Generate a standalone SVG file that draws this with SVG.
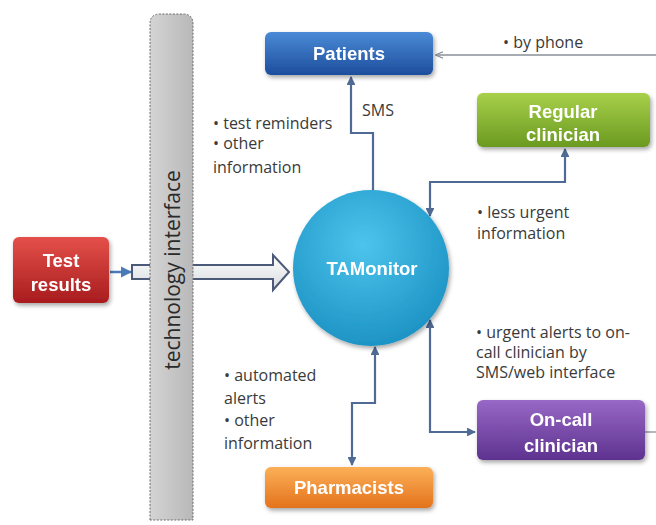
<svg xmlns="http://www.w3.org/2000/svg" width="656" height="525" viewBox="0 0 656 525">
<defs>
<style>
.lbl{font-family:"Liberation Sans",Arial,sans-serif;font-weight:bold;fill:#fff;text-anchor:middle;font-size:18.5px}
.note{font-family:"Open Sans","Liberation Sans",sans-serif;font-size:16px;fill:#3a3a3a}
.conn{fill:none;stroke:#4f6a94;stroke-width:2.2}
.thin{fill:none;stroke:#8a8f98;stroke-width:1.3}
</style>
<linearGradient id="gBlue" x1="0" y1="0" x2="0" y2="1"><stop offset="0" stop-color="#4a8ad6"/><stop offset="1" stop-color="#1d4e9c"/></linearGradient>
<linearGradient id="gGreen" x1="0" y1="0" x2="0" y2="1"><stop offset="0" stop-color="#a8d04a"/><stop offset="1" stop-color="#6a9a20"/></linearGradient>
<linearGradient id="gRed" x1="0" y1="0" x2="0" y2="1"><stop offset="0" stop-color="#e4504a"/><stop offset="1" stop-color="#a81c1e"/></linearGradient>
<linearGradient id="gOrange" x1="0" y1="0" x2="0" y2="1"><stop offset="0" stop-color="#fbb058"/><stop offset="1" stop-color="#e4721c"/></linearGradient>
<linearGradient id="gPurple" x1="0" y1="0" x2="0" y2="1"><stop offset="0" stop-color="#9868c6"/><stop offset="1" stop-color="#5e3290"/></linearGradient>
<radialGradient id="gCyan" cx="0.45" cy="0.35" r="0.7"><stop offset="0" stop-color="#4cc4ec"/><stop offset="1" stop-color="#1a90c2"/></radialGradient>
<linearGradient id="gBar" x1="0" y1="0" x2="1" y2="0"><stop offset="0" stop-color="#d4d4d4"/><stop offset="0.5" stop-color="#c6c6c6"/><stop offset="1" stop-color="#b8b8b8"/></linearGradient>
<linearGradient id="gArrow" x1="0" y1="0" x2="0" y2="1"><stop offset="0" stop-color="#ffffff"/><stop offset="1" stop-color="#d6d9de"/></linearGradient>
<filter id="sh" x="-10%" y="-10%" width="130%" height="140%"><feDropShadow dx="1.5" dy="2.5" stdDeviation="2" flood-color="#000" flood-opacity="0.35"/></filter>
<marker id="ar" viewBox="0 0 10 10" refX="9" refY="5" markerWidth="4" markerHeight="4" orient="auto-start-reverse"><path d="M0,0 L10,5 L0,10 Z" fill="#4f6a94"/></marker>
<marker id="arT" viewBox="0 0 10 10" refX="9" refY="5" markerWidth="6" markerHeight="6" orient="auto"><path d="M0,1 L10,5 L0,9" fill="none" stroke="#8a8f98" stroke-width="1.5"/></marker>
<marker id="arB" viewBox="0 0 10 10" refX="9" refY="5" markerWidth="4.5" markerHeight="4.5" orient="auto"><path d="M0,0 L10,5 L0,10 Z" fill="#4a7ab8"/></marker>
</defs>
<rect width="656" height="525" fill="#ffffff"/>

<g id="connectors">
<path class="conn" d="M373,192 L373,133 L351,133 L351,77" marker-end="url(#ar)"/>
<path class="conn" d="M565,149 L565,182 L430,182 L430,216" marker-start="url(#ar)" marker-end="url(#ar)"/>
<path class="conn" d="M430,320 L430,432 L475,432" marker-start="url(#ar)" marker-end="url(#ar)"/>
<path class="conn" d="M375,347 L375,403 L352,403 L352,465" marker-start="url(#ar)" marker-end="url(#ar)"/>
<path class="thin" d="M656,55 L436,55" marker-end="url(#arT)"/>
<path class="thin" d="M645,432 L656,432"/>
<path d="M110,272 L131,272" fill="none" stroke="#4a7ab8" stroke-width="2.5" marker-end="url(#arB)"/>
<path d="M132,265 L273,265 L273,255 L289,272 L273,290 L273,279 L132,279 Z" fill="url(#gArrow)" stroke="#4a5a78" stroke-width="2"/>
</g>

<g id="tech-interface">
<path d="M150,520 L150,24 Q150,14 160,14 L183,14 Q193,14 193,24 L193,520 Z" fill="url(#gBar)" stroke="#6a6a6a" stroke-width="1" stroke-dasharray="2,1.5"/>
<text x="0" y="0" transform="translate(180,270) rotate(-90)" text-anchor="middle" font-family="'Open Sans','Liberation Sans',sans-serif" font-size="21" fill="#2a2a2a">technology interface</text>
</g>

<g id="patients" filter="url(#sh)">
<rect x="265" y="32" width="168" height="43" rx="6" fill="url(#gBlue)"/>
<text class="lbl" x="349" y="60">Patients</text>
</g>

<g id="regular-clinician" filter="url(#sh)">
<rect x="477" y="93" width="173" height="54" rx="6" fill="url(#gGreen)"/>
<text class="lbl" x="563" y="118">Regular</text>
<text class="lbl" x="563" y="141">clinician</text>
</g>

<g id="test-results" filter="url(#sh)">
<rect x="13" y="237" width="96" height="66" rx="6" fill="url(#gRed)"/>
<text class="lbl" x="61" y="267">Test</text>
<text class="lbl" x="61" y="291">results</text>
</g>

<g id="tamonitor" filter="url(#sh)">
<circle cx="371" cy="268" r="78" fill="url(#gCyan)"/>
<text class="lbl" x="372" y="275">TAMonitor</text>
</g>

<g id="pharmacists" filter="url(#sh)">
<rect x="265" y="467" width="168" height="41" rx="6" fill="url(#gOrange)"/>
<text class="lbl" x="349" y="494">Pharmacists</text>
</g>

<g id="on-call-clinician" filter="url(#sh)">
<rect x="477" y="400" width="168" height="60" rx="6" fill="url(#gPurple)"/>
<text class="lbl" x="561" y="426">On-call</text>
<text class="lbl" x="561" y="452">clinician</text>
</g>

<g id="notes">
<text class="note" x="503" y="48">• by phone</text>
<text class="note" x="362" y="116">SMS</text>
<text class="note" x="213" y="129">• test reminders</text>
<text class="note" x="213" y="149">• other</text>
<text class="note" x="213" y="173">information</text>
<text class="note" x="477" y="218">• less urgent</text>
<text class="note" x="477" y="239">information</text>
<text class="note" x="476" y="338">• urgent alerts to on-</text>
<text class="note" x="476" y="358">call clinician by</text>
<text class="note" x="476" y="378">SMS/web interface</text>
<text class="note" x="224" y="381">• automated</text>
<text class="note" x="224" y="404">alerts</text>
<text class="note" x="224" y="426">• other</text>
<text class="note" x="224" y="449">information</text>
</g>
</svg>
